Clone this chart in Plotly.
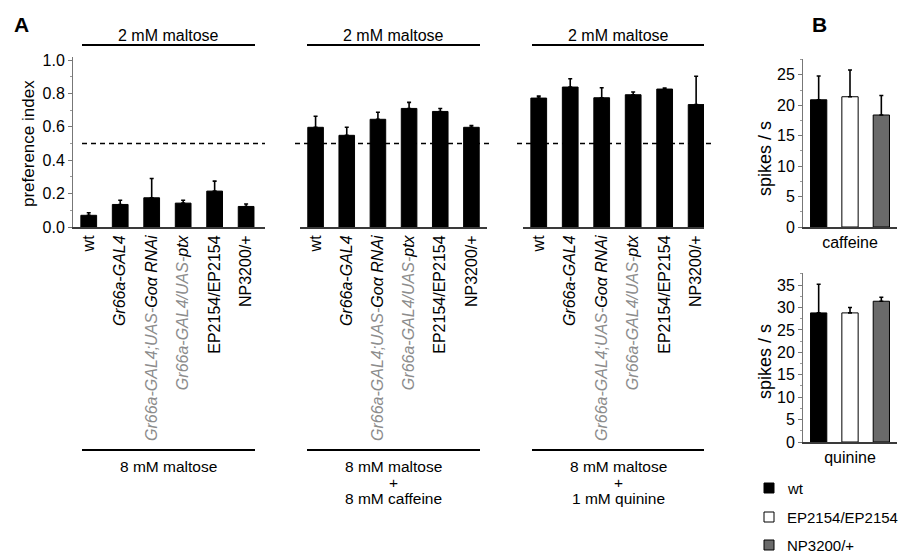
import plotly.graph_objects as go

# target picture size and the default page-body offset of the figure
W, H = 907, 554
OX, OY = 8, 8
FW, FH = W - OX, H - OY
FONT = "Liberation Sans, Arial, Helvetica, sans-serif"

# ---------------- data ----------------
genotypes = ["wt", "Gr66a-GAL4", "Gr66a-GAL4;UAS-Goα RNAi", "Gr66a-GAL4/UAS-ptx",
             "EP2154/EP2154", "NP3200/+"]
genotype_labels = [
    "wt",
    "<i>Gr66a-GAL4</i>",
    "<span style='color:#8c8c8c'><i>Gr66a-GAL4;UAS-</i></span><i>Goα RNAi</i>",
    "<span style='color:#8c8c8c'><i>Gr66a-GAL4/UAS-</i></span><i>ptx</i>",
    "EP2154/EP2154",
    "NP3200/+",
]
pi_maltose = [0.07, 0.135, 0.175, 0.143, 0.215, 0.123]
pi_maltose_err = [0.015, 0.025, 0.115, 0.017, 0.06, 0.015]
pi_caffeine = [0.597, 0.549, 0.645, 0.71, 0.692, 0.597]
pi_caffeine_err = [0.066, 0.048, 0.042, 0.036, 0.018, 0.011]
pi_quinine = [0.772, 0.838, 0.774, 0.792, 0.826, 0.733]
pi_quinine_err = [0.012, 0.05, 0.06, 0.016, 0.006, 0.17]

b_genotypes = ["wt", "EP2154/EP2154", "NP3200/+"]
b_colors = ["black", "white", "#6a6a6a"]
caffeine_rate = [20.9, 21.4, 18.4]
caffeine_err = [3.9, 4.4, 3.2]
quinine_rate = [28.8, 28.8, 31.4]
quinine_err = [6.4, 1.2, 0.9]

top_labels = ["2 mM maltose", "2 mM maltose", "2 mM maltose"]
bottom_labels = [["8 mM maltose"], ["8 mM maltose", "+", "8 mM caffeine"],
                 ["8 mM maltose", "+", "1 mM quinine"]]


def px(x):
    return (x - OX) / FW


def py(y):
    return 1 - (y - OY) / FH


fig = go.Figure()

panels = [(pi_maltose, pi_maltose_err), (pi_caffeine, pi_caffeine_err), (pi_quinine, pi_quinine_err)]
for i, (vals, errs) in enumerate(panels):
    sfx = "" if i == 0 else str(i + 1)
    fig.add_trace(go.Bar(
        x=genotypes, y=vals, width=0.5,
        marker=dict(color="black", line=dict(color="black", width=1)),
        error_y=dict(type="data", symmetric=False, array=errs, arrayminus=[0] * len(errs),
                     color="black", thickness=1.6, width=2),
        xaxis="x" + sfx, yaxis="y" + sfx, showlegend=False,
    ))

for j, (g, c) in enumerate(zip(b_genotypes, b_colors)):
    fig.add_trace(go.Bar(
        x=[g], y=[caffeine_rate[j]], width=0.52, name=g,
        marker=dict(color=c, line=dict(color="black", width=1)),
        error_y=dict(type="data", symmetric=False, array=[caffeine_err[j]], arrayminus=[0],
                     color="black", thickness=1.6, width=2),
        xaxis="x4", yaxis="y4", showlegend=False,
    ))
    fig.add_trace(go.Bar(
        x=[g], y=[quinine_rate[j]], width=0.52, name=g,
        marker=dict(color=c, line=dict(color="black", width=1)),
        error_y=dict(type="data", symmetric=False, array=[quinine_err[j]], arrayminus=[0],
                     color="black", thickness=1.6, width=2),
        xaxis="x5", yaxis="y5", showlegend=False,
    ))

a_ydom = [py(227), py(57)]
xa_common = dict(type="category", tickvals=genotypes, ticktext=genotype_labels, tickangle=-90,
                 showline=True, linecolor="#3a3a3a", linewidth=2, ticks="", showgrid=False,
                 zeroline=False, automargin=False,
                 tickfont=dict(size=16, color="black", family=FONT))
ya_hidden = dict(domain=a_ydom, range=[0, 1.018], visible=False, showgrid=False, zeroline=False)

b_x_common = dict(type="category", range=[-0.5, 2.5], showline=True, linecolor="#3a3a3a",
                  linewidth=1.5, ticks="", showticklabels=False, showgrid=False, zeroline=False,
                  automargin=False)
b_y_common = dict(showline=True, linecolor="#777", linewidth=1, ticks="outside", ticklen=4,
                  tickcolor="#777", dtick=5, showgrid=False, zeroline=False, automargin=False,
                  minor=dict(ticks="outside", ticklen=2, dtick=2.5, tickcolor="#999"),
                  tickfont=dict(size=16, color="black", family=FONT))

fig.update_layout(
    width=FW, height=FH, margin=dict(l=0, r=0, t=0, b=0, autoexpand=False),
    paper_bgcolor="white", plot_bgcolor="white", barmode="overlay", showlegend=False,
    font=dict(family=FONT, color="black"),
    xaxis=dict(domain=[px(73), px(265)], range=[-0.5, 5.6], anchor="y", **xa_common),
    yaxis=dict(domain=a_ydom, range=[0, 1.018], anchor="x", showline=True, linecolor="#777",
               linewidth=1, ticks="outside", ticklen=4, tickcolor="#777", dtick=0.2,
               tickformat=".1f", showgrid=False, zeroline=False, automargin=False,
               minor=dict(ticks="outside", ticklen=2, dtick=0.1, tickcolor="#999"),
               tickfont=dict(size=16, color="black", family=FONT)),
    xaxis2=dict(domain=[px(300), px(487)], range=[-0.5, 5.5], anchor="y2", **xa_common),
    yaxis2=dict(anchor="x2", **ya_hidden),
    xaxis3=dict(domain=[px(523), px(704)], range=[-0.5, 5.25], anchor="y3", **xa_common),
    yaxis3=dict(anchor="x3", **ya_hidden),
    xaxis4=dict(domain=[px(803), px(897)], anchor="y4",
                title=dict(text="caffeine", standoff=9, font=dict(size=16, family=FONT)),
                **b_x_common),
    yaxis4=dict(domain=[py(227), py(59)], range=[0, 27.6], anchor="x4", **b_y_common),
    xaxis5=dict(domain=[px(803), px(897)], anchor="y5",
                title=dict(text="quinine", standoff=9, font=dict(size=16, family=FONT)),
                **b_x_common),
    yaxis5=dict(domain=[py(442), py(273)], range=[0, 37.7], anchor="x5", **b_y_common),
)

shapes = []
annotations = []
spans = [(82, 255), (307, 480), (532, 704)]
dash_spans = [(82, 265), (295, 493), (517, 713)]
for i, ((x0, x1), (d0, d1)) in enumerate(zip(spans, dash_spans)):
    shapes.append(dict(type="line", xref="paper", yref="paper", x0=px(x0), x1=px(x1),
                       y0=py(45), y1=py(45), line=dict(color="black", width=2)))
    shapes.append(dict(type="line", xref="paper", yref="paper", x0=px(x0), x1=px(x1),
                       y0=py(450), y1=py(450), line=dict(color="black", width=2)))
    yref = "y" if i == 0 else "y" + str(i + 1)
    shapes.append(dict(type="line", xref="paper", yref=yref, x0=px(d0), x1=px(d1),
                       y0=0.5, y1=0.5, line=dict(color="black", width=1.6, dash="5px,4px")))
    xc = px((x0 + x1) / 2)
    annotations.append(dict(text=top_labels[i], x=xc, y=py(35), xref="paper", yref="paper",
                            showarrow=False, font=dict(size=16), xanchor="center",
                            yanchor="middle"))
    for k, line in enumerate(bottom_labels[i]):
        annotations.append(dict(text=line, x=xc, y=py(466 + 16 * k), xref="paper",
                                yref="paper", showarrow=False, font=dict(size=15.5),
                                xanchor="center", yanchor="middle"))

# legend for panel B (key squares + labels, built from the genotype / colour lists)
legend_rows = [488, 517, 545]
for g, c, yc in zip(b_genotypes, b_colors, legend_rows):
    shapes.append(dict(type="rect", xref="paper", yref="paper", x0=px(764), x1=px(774),
                       y0=py(yc + 5), y1=py(yc - 5), fillcolor=c,
                       line=dict(color="black", width=1)))
    annotations.append(dict(text=g, x=px(785), y=py(yc), xref="paper", yref="paper",
                            showarrow=False, font=dict(size=15), xanchor="left",
                            yanchor="middle"))

annotations += [
    dict(text="<b>A</b>", x=px(12), y=py(24), xref="paper", yref="paper", showarrow=False,
         font=dict(size=21), xanchor="left", yanchor="middle"),
    dict(text="<b>B</b>", x=px(810), y=py(24), xref="paper", yref="paper", showarrow=False,
         font=dict(size=21), xanchor="left", yanchor="middle"),
    dict(text="preference index", x=px(28), y=py(144), xref="paper", yref="paper",
         showarrow=False, textangle=-90, font=dict(size=17), xanchor="center",
         yanchor="middle"),
    dict(text="spikes / s", x=px(765), y=py(159), xref="paper", yref="paper",
         showarrow=False, textangle=-90, font=dict(size=18), xanchor="center",
         yanchor="middle"),
    dict(text="spikes / s", x=px(765), y=py(362), xref="paper", yref="paper",
         showarrow=False, textangle=-90, font=dict(size=18), xanchor="center",
         yanchor="middle"),
]
fig.update_layout(shapes=shapes, annotations=annotations)

fig.write_html("out.html")
